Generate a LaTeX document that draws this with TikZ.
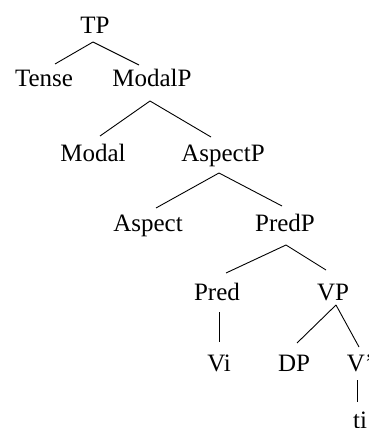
\documentclass[tikz,border=0pt]{standalone}
\usepackage{fontspec}
\setmainfont{Liberation Serif}
\usetikzlibrary{calc}
\begin{document}
\begin{tikzpicture}[x=1pt,y=-1pt,
  lab/.style={anchor=base,inner sep=0pt,font=\fontsize{25}{30}\selectfont},
  edge/.style={draw=black,line width=0.9pt}]
\useasboundingbox (0,0) rectangle (368,428);
\clip (0,0) rectangle (368,428);
\fill[white] (0,0) rectangle (368,428);
\node[lab] (TP) at (95,34) {TP};
\node[lab] (Tense) at (44,86) {Tense};
\node[lab] (ModalP) at (152,86) {ModalP};
\node[lab] (Modal) at (93,161) {Modal};
\node[lab] (AspectP) at (223,161) {AspectP};
\node[lab] (Aspect) at (148,231) {Aspect};
\node[lab] (PredP) at (285,231) {PredP};
\node[lab] (Pred) at (217,300) {Pred};
\node[lab] (VP) at (333,300) {VP};
\node[lab] (Vi) at (219,371) {Vi};
\node[lab] (DP) at (294,371) {DP};
\node[lab] (Vbar) at (360,371) {V'};
\node[lab] (ti) at (360,428) {ti};
% TP
\draw[edge] ($(TP.base)+(-2,8)$) -- ($(Tense.base)+(11,-22)$);
\draw[edge] ($(TP.base)+(-2,8)$) -- ($(ModalP.base)+(-13,-21)$);
% ModalP
\draw[edge] ($(ModalP.base)+(-2,15)$) -- ($(Modal.base)+(7,-25)$);
\draw[edge] ($(ModalP.base)+(-2,15)$) -- ($(AspectP.base)+(-12,-24)$);
% AspectP
\draw[edge] ($(AspectP.base)+(-4,12)$) -- ($(Aspect.base)+(8,-23)$);
\draw[edge] ($(AspectP.base)+(-4,12)$) -- ($(PredP.base)+(-3,-25)$);
% PredP
\draw[edge] ($(PredP.base)+(1,14)$) -- ($(Pred.base)+(9,-27)$);
\draw[edge] ($(PredP.base)+(1,14)$) -- ($(VP.base)+(-7,-30)$);
% VP
\draw[edge] ($(VP.base)+(3,5)$) -- ($(DP.base)+(3,-28)$);
\draw[edge] ($(VP.base)+(3,5)$) -- ($(Vbar.base)+(-1,-24)$);
% unary
\draw[edge] ($(Pred.base)+(2,12)$) -- ($(Vi.base)+(0,-29)$);
\draw[edge] ($(Vbar.base)+(-3,9)$) -- ($(ti.base)+(-3,-26)$);
\end{tikzpicture}
\end{document}
